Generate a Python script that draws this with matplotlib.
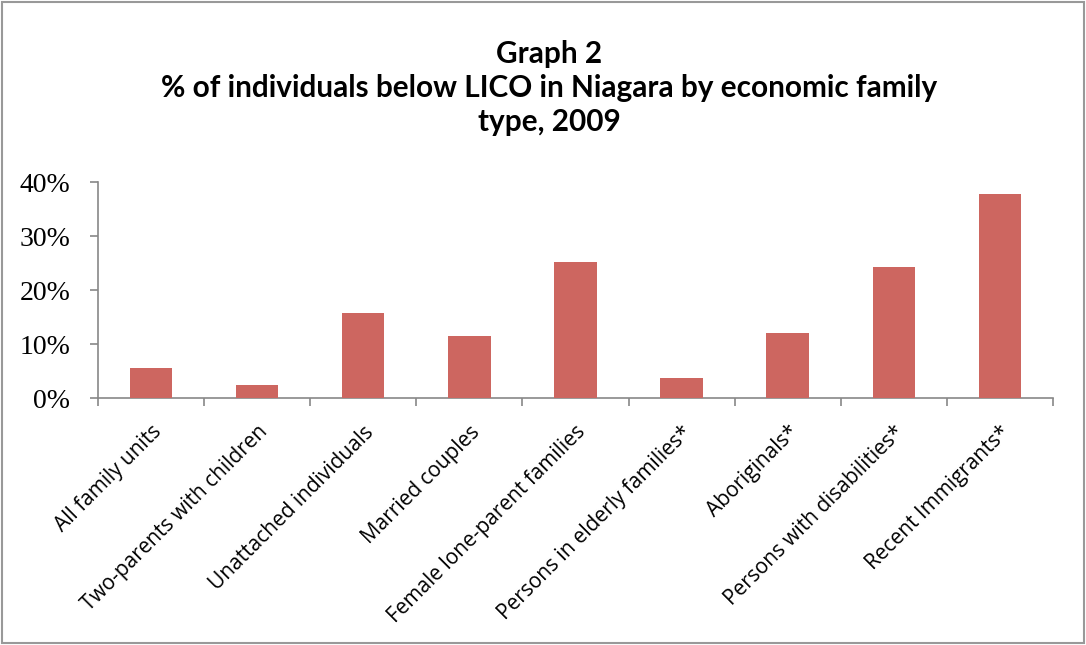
import matplotlib.pyplot as plt
import numpy as np
from matplotlib.patches import Rectangle
from matplotlib.ticker import FuncFormatter

categories = ['All family units', 'Two-parents with children', 'Unattached individuals',
              'Married couples', 'Female lone-parent families', 'Persons in elderly families*',
              'Aboriginals*', 'Persons with disabilities*', 'Recent Immigrants*']
values = [5.6, 2.4, 15.8, 11.5, 25.1, 3.7, 12.0, 24.3, 37.8]
y_ticks = [0, 10, 20, 30, 40]

fig = plt.figure(figsize=(10.86, 6.45), dpi=100)
ax = fig.add_axes([0.0902, 0.3829, 0.8794, 0.3349])

x = np.arange(len(categories))
ax.bar(x, values, width=0.4, color='#CD6660', zorder=3)

ax.set_xlim(-0.5, len(categories) - 0.5)
ax.set_ylim(0, 40)
ax.set_yticks(y_ticks)
ax.yaxis.set_major_formatter(FuncFormatter(lambda v, p: '%d%%' % v))
for lab in ax.get_yticklabels():
    lab.set_fontfamily('Liberation Serif')
    lab.set_fontsize(20)

# category labels, ticks at the boundaries
ax.set_xticks(np.arange(len(categories) + 1) - 0.5)
ax.set_xticklabels([])
ax.set_xticks(x, minor=True)
ax.set_xticklabels(categories, minor=True, rotation=45, ha='right',
                   rotation_mode='anchor', fontfamily='Open Sans', fontsize=15)
ax.tick_params(axis='x', which='minor', length=0, pad=17)
ax.tick_params(axis='x', which='major', length=6, color='#888888', width=1.2)
ax.tick_params(axis='y', length=6, color='#888888', width=1.2, pad=14)

ax.spines['top'].set_visible(False)
ax.spines['right'].set_visible(False)
ax.spines['left'].set_color('#888888')
ax.spines['bottom'].set_color('#888888')
ax.spines['left'].set_linewidth(1.2)
ax.spines['bottom'].set_linewidth(1.2)

fig.text(0.506, 0.8636, 'Graph 2\n% of individuals below LICO in Niagara by economic family\ntype, 2009',
         ha='center', va='center', fontsize=21.4, fontweight='bold', fontfamily='Lato',
         linespacing=1.25)

fig.patches.append(Rectangle((0.002, 0.003), 0.996, 0.994, transform=fig.transFigure,
                             fill=False, edgecolor='#999999', linewidth=1.5))

fig.savefig('out.png', dpi=100)
